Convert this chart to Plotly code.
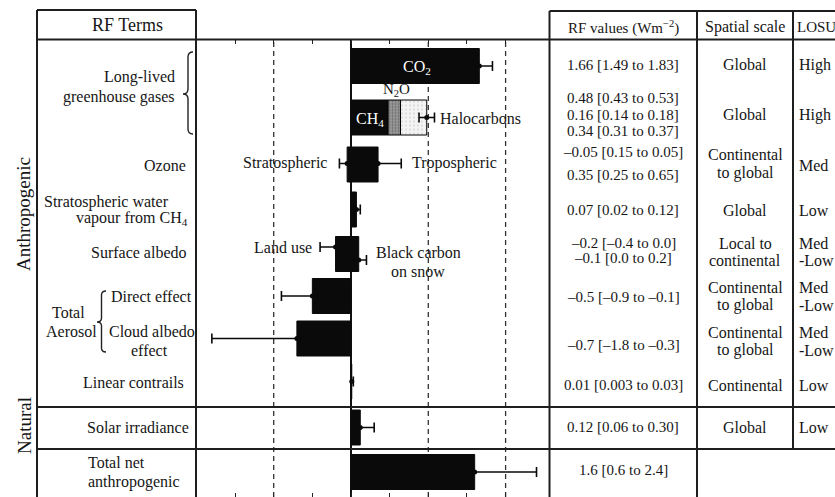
import plotly.graph_objects as go

W, H = 835, 497
FONT = "Liberation Serif"
INK = "#161616"
BAR = "#0a0a0a"

# ---------------- data ----------------
bar_names = ["CO2", "CH4", "N2O", "Halocarbons", "Stratospheric ozone", "Tropospheric ozone",
             "Stratospheric water vapour", "Land use", "Black carbon on snow", "Direct effect",
             "Cloud albedo effect", "Linear contrails", "Solar irradiance", "Total net anthropogenic"]
bar_values = [1.66, 0.48, 0.16, 0.34, -0.05, 0.35, 0.07, -0.2, 0.1, -0.5, -0.7, 0.01, 0.12, 1.6]
bar_low = [1.49, 0.43, 0.14, 0.31, -0.15, 0.25, 0.02, -0.4, 0.0, -0.9, -1.8, 0.003, 0.06, 0.6]
bar_high = [1.83, 0.53, 0.18, 0.37, 0.05, 0.65, 0.12, 0.0, 0.2, -0.1, -0.3, 0.03, 0.30, 2.4]
ghg_stack = ["CH4", "N2O", "Halocarbons"]

rf_value_labels = ["1.66 [1.49 to 1.83]", "0.48 [0.43 to 0.53]", "0.16 [0.14 to 0.18]",
                   "0.34 [0.31 to 0.37]", "–0.05 [0.15 to 0.05]", "0.35 [0.25 to 0.65]",
                   "0.07 [0.02 to 0.12]", "–0.2 [–0.4 to 0.0]", "–0.1 [0.0 to 0.2]",
                   "–0.5 [–0.9 to –0.1]", "–0.7 [–1.8 to –0.3]", "0.01 [0.003 to 0.03]",
                   "0.12 [0.06 to 0.30]", "1.6 [0.6 to 2.4]"]
spatial_labels = ["Global", "Global", "Continental", "to global", "Global", "Local to", "continental",
                  "Continental", "to global", "Continental", "to global", "Continental", "Global"]
losu_labels = ["High", "High", "Med", "Low", "Med", "-Low", "Med", "-Low", "Med", "-Low", "Low", "Low"]
axis_ticks = [-1.5, -1, -0.5, 0, 0.5, 1, 1.5, 2]
grid_values = [-1, 1, 2]

# ---------------- layout constants (pixel positions) ----------------
ZERO_PX, SCALE = 351.0, 77.3
X0_PX, X1_PX, TOP_PX = 196.0, 549.5, 39.5
row_y = {"CO2": 66, "CH4": 117.5, "N2O": 117.5, "Halocarbons": 117.5,
         "Stratospheric ozone": 164.5, "Tropospheric ozone": 164.5,
         "Stratospheric water vapour": 209.5, "Land use": 254, "Black carbon on snow": 254,
         "Direct effect": 296, "Cloud albedo effect": 338.5, "Linear contrails": 381.5,
         "Solar irradiance": 427.5, "Total net anthropogenic": 472}
err_offset = {"Land use": -7, "Black carbon on snow": 6, "Stratospheric ozone": -1,
              "Tropospheric ozone": -1}
rf_value_y = [65, 98, 115, 131, 152, 175, 210, 243, 258, 297, 345, 385, 427, 470]
spatial_y = [65, 115, 155, 173, 210, 243, 260, 287, 305, 332, 350, 385, 427]
losu_y = [65, 115, 165, 210, 243, 260, 287, 305, 332, 350, 385, 427]


def px(x):
    return x / W


def py(y):
    return 1 - y / H


fig = go.Figure()

black = dict(color=BAR, line=dict(color=BAR, width=1))
styles = {
    "N2O": dict(color="#8c8c8c", line=dict(color="#000", width=1),
                pattern=dict(shape=".", bgcolor="#9a9a9a", fgcolor="#3a3a3a", size=3, solidity=0.35)),
    "Halocarbons": dict(color="#f2f2f2", line=dict(color="#000", width=1),
                        pattern=dict(shape=".", bgcolor="#f4f4f4", fgcolor="#9a9a9a", size=4, solidity=0.15)),
}

# bars
cum = 0.0
for name, v in zip(bar_names, bar_values):
    base = 0.0
    if name in ghg_stack:
        base = cum
        cum += v
    fig.add_trace(go.Bar(orientation="h", y=[row_y[name]], x=[v], base=[base], width=35,
                         marker=styles.get(name, black), opacity=1, showlegend=False,
                         hoverinfo="skip"))


# error bars
def add_err(v, lo, hi, y):
    fig.add_trace(go.Scatter(x=[v], y=[y], mode="markers", marker=dict(size=5, color=BAR),
                             error_x=dict(type="data", symmetric=False, array=[hi - v],
                                          arrayminus=[v - lo], color=BAR, thickness=1.6, width=5),
                             showlegend=False, hoverinfo="skip"))


ghg_v = ghg_lo = ghg_hi = 0.0
for name, v, lo, hi in zip(bar_names, bar_values, bar_low, bar_high):
    if name in ghg_stack:
        ghg_v += v
        ghg_lo += lo
        ghg_hi += hi
        continue
    add_err(v, lo, hi, row_y[name] + err_offset.get(name, 0))
add_err(ghg_v, ghg_lo, ghg_hi, row_y["CH4"])

shapes = []


def hline(y, x0, x1, w=2):
    shapes.append(dict(type="line", xref="paper", yref="paper", x0=px(x0), x1=px(x1),
                       y0=py(y), y1=py(y), line=dict(color="#1e1e1e", width=w)))


def vline(x, y0, y1, w=2):
    shapes.append(dict(type="line", xref="paper", yref="paper", x0=px(x), x1=px(x),
                       y0=py(y0), y1=py(y1), line=dict(color="#1e1e1e", width=w)))


# table frame
hline(10, 37, 196)
hline(11, 549.5, 835)
hline(TOP_PX, 37, 835)
hline(407, 37, 835)
hline(449, 37, 835)
vline(37, 10, 497)
vline(196, 10, 497)
vline(549.5, 11, 497)
vline(697, 11, 497)
vline(793, 11, 449)

# dashed grid
for g in grid_values:
    shapes.append(dict(type="line", xref="x", yref="paper", x0=g, x1=g, y0=0, y1=py(TOP_PX),
                       line=dict(color="#333", width=1.3, dash="5px,4px"), layer="below"))


def brace(x_tip, x_end, y0, y1, ym, r=5):
    xm = (x_tip + x_end) / 2
    pts = [("M", [(x_end, y0)]), ("Q", [(xm, y0), (xm, y0 + r)]), ("L", [(xm, ym - r)]),
           ("Q", [(xm, ym), (x_tip, ym)]), ("Q", [(xm, ym), (xm, ym + r)]), ("L", [(xm, y1 - r)]),
           ("Q", [(xm, y1), (x_end, y1)])]
    d = ""
    for cmd, ps in pts:
        d += cmd + " " + " ".join(f"{px(a):.5f},{py(b):.5f}" for a, b in ps) + " "
    shapes.append(dict(type="path", xref="paper", yref="paper", path=d,
                       line=dict(color="#222", width=1.4)))


brace(183, 193, 52, 134, 94)
brace(97, 106, 291, 352, 322, r=4)

annotations = []


def ann(text, x, y, anchor="center", size=16, color=INK, angle=0):
    annotations.append(dict(text=text, x=px(x), y=py(y), xref="paper", yref="paper",
                            xanchor=anchor, yanchor="middle", showarrow=False, textangle=angle,
                            font=dict(family=FONT, size=size, color=color)))


# headers
ann("RF Terms", 127, 25, size=18)
ann("RF values (Wm<sup>−2</sup>)", 623, 27, size=15)
ann("Spatial scale", 745, 27, size=16)
ann("LOSU", 795, 27, "left", size=15)

# left labels
ann("Anthropogenic", 24, 214, size=19, angle=-90)
ann("Natural", 24, 426, size=19, angle=-90)
ann("Long-lived", 177, 77, "right")
ann("greenhouse gases", 177, 97, "right")
ann("Ozone", 188, 165, "right")
ann("Stratospheric water", 42, 202, "left")
ann("vapour from CH<sub>4</sub>", 190, 218, "right")
ann("Surface albedo", 189, 252, "right")
ann("Direct effect", 109, 296, "left")
ann("Total", 68, 312)
ann("Aerosol", 44, 331, "left")
ann("Cloud albedo", 107, 331, "left")
ann("effect", 149, 350)
ann("Linear contrails", 186, 382, "right")
ann("Solar irradiance", 191, 427, "right")
ann("Total net", 86, 462, "left")
ann("anthropogenic", 86, 482, "left")

# chart annotations
ann("CO<sub>2</sub>", 417, 67, color="white")
ann("N<sub>2</sub>O", 396, 90, size=15)
ann("CH<sub>4</sub>", 370, 119, color="white")
ann("Halocarbons", 438, 118, "left")
ann("Stratospheric", 329, 163, "right")
ann("Tropospheric", 410, 163, "left")
ann("Land use", 314, 247, "right")
ann("Black carbon", 418, 252)
ann("on snow", 418, 271)

# table
for t, y in zip(rf_value_labels, rf_value_y):
    ann(t, 623, y, size=15)
for t, y in zip(spatial_labels, spatial_y):
    ann(t, 745, y, size=16)
for t, y in zip(losu_labels, losu_y):
    ann(t, 797, y, "left", size=16)

xr = [(X0_PX - ZERO_PX) / SCALE, (X1_PX - ZERO_PX) / SCALE]
fig.update_layout(
    width=W, height=H, margin=dict(l=0, r=0, t=0, b=0),
    paper_bgcolor="white", plot_bgcolor="rgba(0,0,0,0)",
    barmode="overlay", showlegend=False,
    xaxis=dict(domain=[px(X0_PX), px(X1_PX)], range=xr, tickvals=axis_ticks, ticks="inside",
               ticklen=4, tickwidth=1.2, tickcolor="#222", showticklabels=False, showgrid=False,
               zeroline=True, zerolinecolor="#111", zerolinewidth=1.6, mirror="ticks",
               showline=False, fixedrange=True),
    yaxis=dict(domain=[0, py(TOP_PX)], range=[H, TOP_PX], visible=False, fixedrange=True),
    shapes=shapes, annotations=annotations,
)

fig.write_html("out.html")
